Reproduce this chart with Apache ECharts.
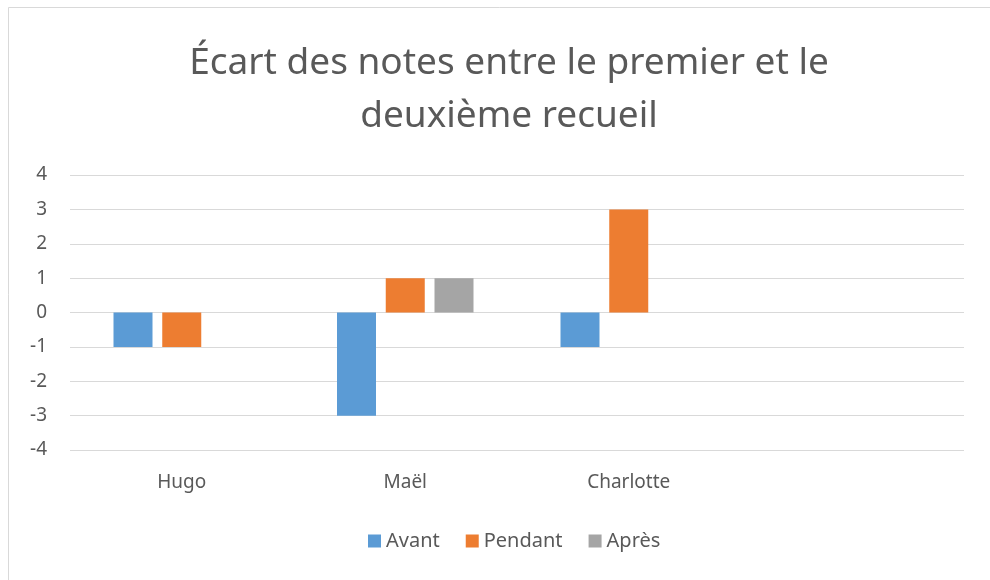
<!DOCTYPE html>
<html style="height: 100%">
<head>
    <meta charset="utf-8">
    <title>Écart des notes</title>
</head>
<body style="height: 100%; margin: 0">
<div id="container" style="width: 990px; height: 580px"></div>
<script type="text/javascript" src="https://cdn.jsdelivr.net/npm/echarts@6/dist/echarts.min.js"></script>
<script type="text/javascript">
    // données
    var eleves = ['Hugo', 'Maël', 'Charlotte', ''];
    var avant = [-1, -3, -1, null];
    var pendant = [-1, 1, 3, null];
    var apres = [0, 1, 0, null];
    var graduations = [-4, 4, 1]; // min, max, pas

    var dom = document.getElementById("container");
    var myChart = echarts.init(dom);
    var police = "'Noto Sans', 'Open Sans', sans-serif";

    var option = {
        backgroundColor: '#fff',
        textStyle: { fontFamily: police },
        graphic: [{
            type: 'rect',
            shape: { x: 8.5, y: 7.5, width: 1000, height: 600 },
            style: { fill: 'none', stroke: '#d9d9d9', lineWidth: 1 },
            silent: true
        }],
        title: {
            text: 'Écart des notes entre le premier et le\ndeuxième recueil',
            left: 504,
            textAlign: 'center',
            top: 32,
            textStyle: {
                fontFamily: police,
                fontSize: 37,
                fontWeight: 'normal',
                color: '#595959',
                lineHeight: 53
            }
        },
        legend: {
            bottom: 24,
            left: 363,
            itemWidth: 13,
            itemHeight: 13,
            itemGap: 26,
            icon: 'rect',
            textStyle: { fontSize: 20, color: '#595959', fontFamily: police },
            data: ['Avant', 'Pendant', 'Après']
        },
        grid: {
            left: 70,
            right: 26,
            top: 175,
            bottom: 130,
            containLabel: false
        },
        xAxis: {
            type: 'category',
            data: eleves,
            axisLine: { show: false },
            axisTick: { show: false },
            axisLabel: { fontSize: 19, color: '#595959', margin: 23, fontFamily: police }
        },
        yAxis: {
            type: 'value',
            min: graduations[0],
            max: graduations[1],
            interval: graduations[2],
            axisLine: { show: false },
            axisTick: { show: false },
            axisLabel: { fontSize: 19, color: '#595959', margin: 23, align: 'right', fontFamily: police },
            splitLine: { lineStyle: { color: '#d9d9d9', width: 1 } }
        },
        series: [
            { name: 'Avant', type: 'bar', data: avant, barWidth: 39, barGap: '25%', itemStyle: { color: '#5b9bd5' } },
            { name: 'Pendant', type: 'bar', data: pendant, barWidth: 39, barGap: '25%', itemStyle: { color: '#ed7d31' } },
            { name: 'Après', type: 'bar', data: apres, barWidth: 39, barGap: '25%', itemStyle: { color: '#a5a5a5' } }
        ]
    };
    myChart.setOption(option, true);
</script>
</body>
</html>
